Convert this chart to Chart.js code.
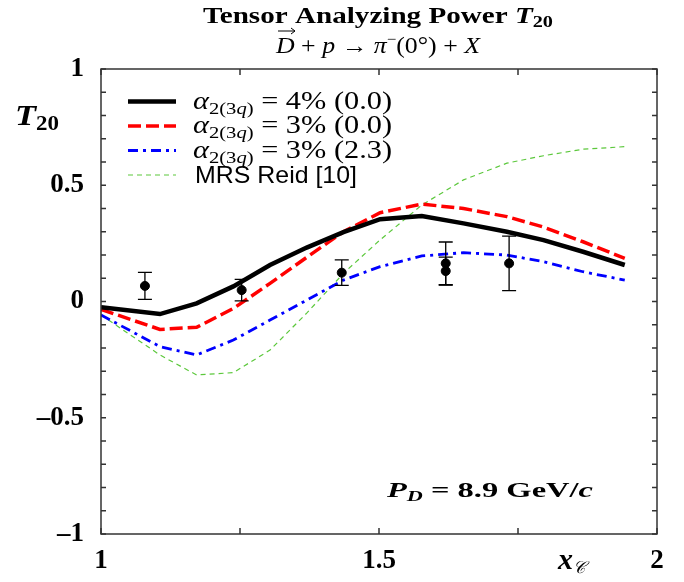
<!DOCTYPE html>
<html>
<head>
<meta charset="utf-8">
<script src="https://cdn.jsdelivr.net/npm/chart.js@4"></script>
<style>
  html, body { margin: 0; padding: 0; background: #fff; }
  #wrap { width: 684px; height: 582px; }
</style>
</head>
<body>
<div id="wrap"><canvas id="c" width="684" height="582"></canvas></div>
<script>
// x_C grid of the model curves
const xGrid = [1.0, 1.106, 1.172, 1.238, 1.304, 1.37, 1.436, 1.502, 1.577, 1.652, 1.73, 1.796, 1.867, 1.942];
const alpha4 = [-0.025, -0.054, -0.008, 0.065, 0.157, 0.232, 0.298, 0.354, 0.368, 0.336, 0.30, 0.264, 0.214, 0.157];
const alpha3 = [-0.034, -0.12, -0.111, -0.03, 0.078, 0.19, 0.30, 0.382, 0.419, 0.40, 0.365, 0.32, 0.257, 0.186];
const alpha3b = [-0.058, -0.194, -0.23, -0.166, -0.08, 0.006, 0.092, 0.15, 0.196, 0.21, 0.20, 0.171, 0.128, 0.092];
const mrsReid = [-0.058, -0.23, -0.316, -0.306, -0.209, -0.05, 0.121, 0.265, 0.415, 0.523, 0.595, 0.627, 0.655, 0.666];

// measured points
const expX = [1.079, 1.253, 1.433, 1.62, 1.62, 1.734];
const expY = [0.067, 0.049, 0.124, 0.164, 0.131, 0.164];
const expErr = [0.058, 0.046, 0.055, 0.092, 0.06, 0.117];

const xTickLabels = {10: '1', 15: '1.5', 20: '2'};
const yTickLabels = {10: '1', 5: '0.5', 0: '0', '-5': '\u20130.5', '-10': '\u20131'};

function pts(xs, ys) {
  return xs.map((x, i) => ({x: x, y: ys[i]}));
}

const serif = 'Liberation Serif';

// draw text made of pieces (text, font, dy); optional target width stretches it
function rich(ctx, x, y, parts, align, target) {
  let w = 0;
  parts.forEach(p => { ctx.font = p[1]; w += ctx.measureText(p[0]).width; });
  const sx = target ? target / w : 1;
  const tw = w * sx;
  let left = align === 'center' ? x - tw / 2 : x;
  ctx.save();
  ctx.translate(left, y);
  ctx.scale(sx, 1);
  let cx = 0;
  parts.forEach(p => {
    ctx.font = p[1];
    ctx.fillText(p[0], cx, p[2] || 0);
    cx += ctx.measureText(p[0]).width;
  });
  ctx.restore();
  return {left: left, width: tw, sx: sx};
}

const lineSets = [
  {label: 'a4', data: pts(xGrid, alpha4), borderColor: '#000', borderWidth: 4.5, borderDash: [], order: 1},
  {label: 'a3', data: pts(xGrid, alpha3), borderColor: '#f00', borderWidth: 3.5, borderDash: [13, 5], order: 2},
  {label: 'a3b', data: pts(xGrid, alpha3b), borderColor: '#00f', borderWidth: 2.8, borderDash: [10, 5, 3, 5], order: 3},
  {label: 'mrs', data: pts(xGrid, mrsReid), borderColor: '#5cc83c', borderWidth: 1.2, borderDash: [5, 4], order: 4}
];

const decor = {
  id: 'decor',
  afterDatasetsDraw(chart) {
    const ctx = chart.ctx;
    const xs = chart.scales.x, ys = chart.scales.y;
    const a = chart.chartArea;
    ctx.save();
    // error bars
    ctx.strokeStyle = '#000';
    ctx.lineWidth = 1.3;
    for (let i = 0; i < expX.length; i++) {
      const px = xs.getPixelForValue(expX[i]);
      const t = ys.getPixelForValue(expY[i] + expErr[i]);
      const b = ys.getPixelForValue(expY[i] - expErr[i]);
      ctx.beginPath();
      ctx.moveTo(px, t); ctx.lineTo(px, b);
      ctx.moveTo(px - 7, t); ctx.lineTo(px + 7, t);
      ctx.moveTo(px - 7, b); ctx.lineTo(px + 7, b);
      ctx.stroke();
    }
    // frame
    ctx.strokeStyle = '#333';
    ctx.lineWidth = 1.5;
    ctx.strokeRect(a.left, a.top, a.right - a.left, a.bottom - a.top);
    // tick marks inward
    ctx.beginPath();
    for (let k = -10; k <= 10; k++) {
      const py = ys.getPixelForValue(k / 10);
      ctx.moveTo(a.left, py); ctx.lineTo(a.left + 5, py);
      ctx.moveTo(a.right, py); ctx.lineTo(a.right - 5, py);
    }
    for (let k = 0; k <= 4; k++) {
      const px = xs.getPixelForValue(1 + k * 0.25);
      ctx.moveTo(px, a.bottom); ctx.lineTo(px, a.bottom - 6);
      ctx.moveTo(px, a.top); ctx.lineTo(px, a.top + 6);
    }
    ctx.stroke();

    // legend
    const rows = ['4% (0.0)', '3% (0.0)', '3% (2.3)', null];
    ctx.fillStyle = '#000';
    ctx.textBaseline = 'alphabetic';
    lineSets.forEach((ds, i) => {
      const yc = 101.5 + i * 24.5;
      ctx.strokeStyle = ds.borderColor;
      ctx.lineWidth = ds.borderWidth;
      ctx.setLineDash(ds.borderDash);
      ctx.beginPath();
      ctx.moveTo(128, yc); ctx.lineTo(176, yc);
      ctx.stroke();
      ctx.setLineDash([]);
      if (rows[i]) {
        rich(ctx, 193, yc + 7, [
          ['\u03b1', 'italic 25px ' + serif],
          ['2(3', '17px ' + serif, 5],
          ['q', 'italic 17px ' + serif, 5],
          [')', '17px ' + serif, 5],
          [' = ' + rows[i], '25px ' + serif]
        ], 'left', 199);
      } else {
        rich(ctx, 195, yc + 8, [['MRS Reid [10]', '24px Liberation Sans']], 'left', 162);
      }
    });

    // titles
    rich(ctx, 378, 23, [
      ['Tensor Analyzing Power ', 'bold 23px ' + serif],
      ['T', 'bold italic 23px ' + serif],
      ['20', 'bold 16px ' + serif, 4]
    ], 'center', 350);
    const t2 = rich(ctx, 378, 53, [
      ['D', 'italic 23px ' + serif],
      [' + ', '23px ' + serif],
      ['p', 'italic 23px ' + serif],
      [' \u2192 ', '23px ' + serif],
      ['\u03c0', 'italic 23px ' + serif],
      ['\u2212', '15px ' + serif, -9],
      ['(0\u00b0) + ', '23px ' + serif],
      ['X', 'italic 23px ' + serif]
    ], 'center', 204);
    // arrow over D
    const dx = t2.left;
    ctx.strokeStyle = '#000';
    ctx.lineWidth = 1;
    ctx.beginPath();
    ctx.moveTo(dx + 2, 31); ctx.lineTo(dx + 19, 31);
    ctx.moveTo(dx + 15, 28); ctx.lineTo(dx + 19, 31); ctx.lineTo(dx + 15, 34);
    ctx.stroke();

    // axis titles
    rich(ctx, 15, 125, [
      ['T', 'bold italic 30px ' + serif],
      ['20', 'bold 20px ' + serif, 5]
    ], 'left', 44);
    rich(ctx, 558, 569, [
      ['x', 'bold italic 30px ' + serif],
      ['\ud835\udc9e', 'italic 17px ' + serif, 4]
    ]);
    rich(ctx, 387, 497, [
      ['P', 'bold italic 22px ' + serif],
      ['D', 'bold italic 15px ' + serif, 4],
      [' = 8.9 GeV/', 'bold 22px ' + serif],
      ['c', 'bold italic 22px ' + serif]
    ], 'left', 206);
    ctx.restore();
  }
};

const datasets = lineSets.map(d => ({
  label: d.label,
  data: d.data,
  showLine: true,
  borderColor: d.borderColor,
  borderWidth: d.borderWidth,
  borderDash: d.borderDash,
  pointRadius: 0,
  tension: 0,
  fill: false,
  order: d.order
}));
datasets.push({
  label: 'data',
  data: pts(expX, expY),
  showLine: false,
  pointRadius: 4.5,
  pointBackgroundColor: '#000',
  pointBorderColor: '#000',
  order: 0
});

new Chart(document.getElementById('c'), {
  type: 'scatter',
  data: {datasets: datasets},
  options: {
    responsive: false,
    animation: false,
    events: [],
    layout: {padding: {left: 0, right: 27, top: 69, bottom: 0}},
    plugins: {legend: {display: false}, title: {display: false}, tooltip: {enabled: false}},
    scales: {
      x: {
        type: 'linear', min: 1, max: 2,
        afterFit(s) { s.height = 48; },
        grid: {display: false, drawTicks: false},
        border: {display: false},
        ticks: {
          stepSize: 0.25, autoSkip: false, maxRotation: 0, padding: 11, color: '#000',
          font: {family: serif, size: 27, weight: 'bold'},
          callback: v => xTickLabels[Math.round(v * 10)] || ''
        }
      },
      y: {
        type: 'linear', min: -1, max: 1,
        afterFit(s) { s.width = 101; },
        grid: {display: false, drawTicks: false},
        border: {display: false},
        ticks: {
          stepSize: 0.1, autoSkip: false, padding: 17, color: '#000',
          font: {family: serif, size: 27, weight: 'bold'},
          callback: v => yTickLabels[Math.round(v * 10)] || ''
        }
      }
    }
  },
  plugins: [decor]
});
</script>
</body>
</html>
